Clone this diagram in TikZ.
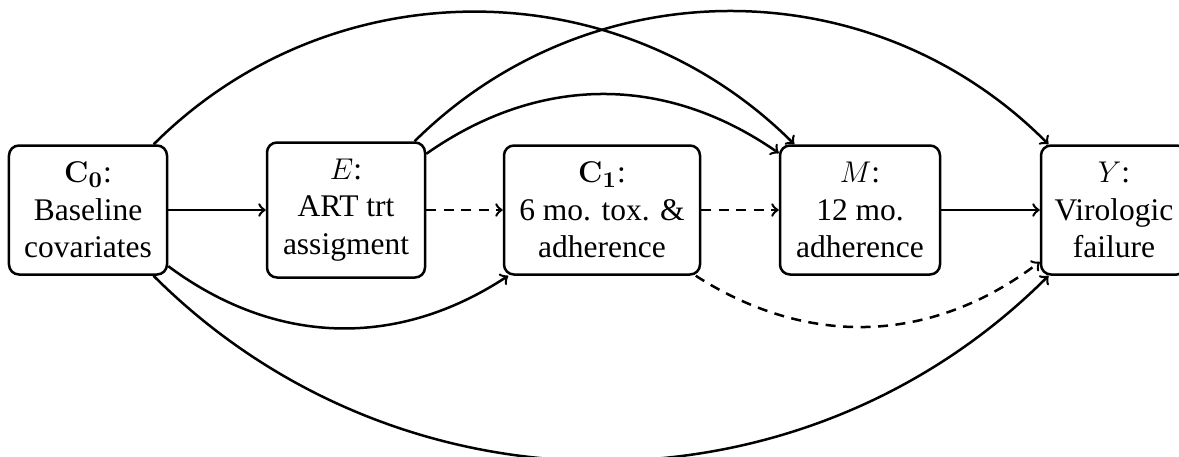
\documentclass[tikz,border=0pt]{standalone}
\usepackage[no-math]{fontspec}
\setmainfont{Liberation Serif}
\begin{document}
\begin{tikzpicture}[x=0.4pt,y=-0.4pt,
  box/.style={draw,line width=1pt,rounded corners=4pt,align=center,inner sep=0pt,
    font=\fontsize{12.6}{15}\selectfont},
  arr/.style={->,line width=1pt},
  darr/.style={->,line width=1pt,dash pattern=on 4pt off 3pt}]
\useasboundingbox (0,0) rectangle (1179,456);
\clip (0,0) rectangle (1179,456);
\node[box,minimum width=63.2pt,minimum height=51.6pt] (C0) at (88,210) {$\mathbf{C_0}$:\\Baseline\\covariates};
\node[box,minimum width=63.2pt,minimum height=54pt] (E) at (346,210) {$E$:\\ART trt\\assigment};
\node[box,minimum width=78.4pt,minimum height=51.6pt] (C1) at (602,210) {$\mathbf{C_1}$:\\6 mo. tox. \&\\adherence};
\node[box,minimum width=64pt,minimum height=51.6pt] (M) at (860,210) {$M$:\\12 mo.\\adherence};
\node[box,minimum width=58.4pt,minimum height=51.6pt] (Y) at (1114,210) {$Y$:\\Virologic\\failure};
\draw[arr] (C0) -- (E);
\draw[darr] (E) -- (C1);
\draw[darr] (C1) -- (M);
\draw[arr] (M) -- (Y);
\draw[arr] (C0) to[bend left=45] (M);
\draw[arr] (E) to[bend left=45] (Y);
\draw[arr] (E) to[bend left=35] (M);
\draw[arr] (C0) to[bend right=35] (C1);
\draw[arr] (C0) to[bend right=45] (Y);
\draw[darr] (C1) to[bend right=35] (Y);
\end{tikzpicture}
\end{document}
